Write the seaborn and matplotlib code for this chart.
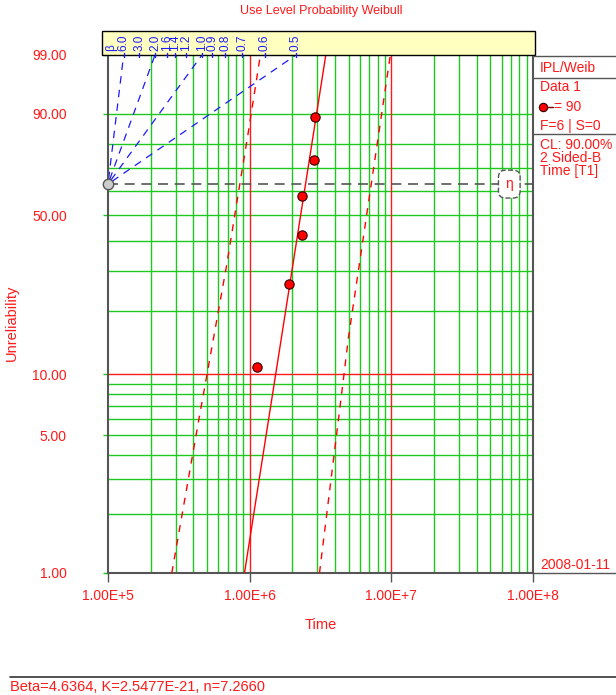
import numpy as np
import pandas as pd
import matplotlib
matplotlib.use('Agg')
import matplotlib.pyplot as plt
from matplotlib.patches import Rectangle
import seaborn as sns

# failure data at use level
fail_times = [1.125e6, 1.89e6, 2.35e6, 2.35e6, 2.85e6, 2.88e6]
unrel_pct = [10.9, 26.4, 42.1, 57.9, 73.5, 89.1]

# IPL-Weibull parameters
beta_fit = 4.6364
K_fit = 2.5477e-21
n_fit = 7.2660
use_stress = 90

# 2-sided confidence bounds on time
lower_t = [2.82e5, 4.38e5, 4.82e5, 6.89e5, 7.96e5, 9.84e5, 1.19e6]
lower_F = [1.0, 6.0, 8.7, 32.0, 52.2, 85.0, 99.0]
upper_t = [3.11e6, 4.52e6, 4.98e6, 6.78e6, 8.22e6, 9.84e6]
upper_F = [1.0, 8.7, 15.0, 52.2, 85.0, 99.0]

# beta scale labels and the fan lines drawn for some of them
beta_marks = [6.0, 3.0, 2.0, 1.6, 1.4, 1.2, 1.0, 0.9, 0.8, 0.7, 0.6, 0.5]
beta_fan = [6.0, 2.0, 1.0, 0.5]

y_ticks = [1, 5, 10, 50, 90, 99]
x_ticks = [1e5, 1e6, 1e7, 1e8]
x_ticklabels = ['1.00E+5', '1.00E+6', '1.00E+7', '1.00E+8']

sns.set_style('white')
plt.rcParams['font.family'] = ['Liberation Sans', 'DejaVu Sans']

RED = '#ff1a1a'
GREEN = '#1ec81e'
BLUE = '#1a1aff'
GRAY = '#555555'


def weib_fwd(F):
    F = np.clip(np.asarray(F, dtype=float), 1e-6, 100 - 1e-9)
    return np.log(-np.log(1 - F / 100.0))


def weib_inv(z):
    z = np.asarray(z, dtype=float)
    return 100.0 * (1 - np.exp(-np.exp(z)))


fig = plt.figure(figsize=(6.16, 6.95), dpi=100)
ax = fig.add_axes([108 / 616, 1 - 573 / 695, 425 / 616, 518 / 695])
ax.set_xscale('log')
ax.set_yscale('function', functions=(weib_fwd, weib_inv))
ax.set_xlim(1e5, 1e8)
ax.set_ylim(1, 99)

# grid
for dec in [1e5, 1e6, 1e7]:
    for m in range(2, 10):
        ax.axvline(dec * m, color=GREEN, lw=1, zorder=1)
for v in [1e6, 1e7]:
    ax.axvline(v, color=RED, lw=1, zorder=1.1)
for f in [2, 3, 4, 5, 6, 7, 8, 9, 20, 30, 40, 50, 60, 70, 80, 90]:
    ax.axhline(f, color=GREEN, lw=1, zorder=1)
ax.axhline(10, color=RED, lw=1, zorder=1.1)

# beta fan lines from origin
F_eta = 100 * (1 - np.exp(-1))
z_top = np.log(-np.log(0.01))
beta_x = {b: 1e5 * np.exp(z_top / b) for b in beta_marks}
for b in beta_fan:
    ax.plot([1e5, beta_x[b]], [F_eta, 99], color=BLUE, lw=0.9,
            linestyle=(7, (6, 5)), zorder=2)

# eta line
ax.plot([1e5, 1e8], [F_eta, F_eta], color=GRAY, lw=1.2, dashes=(6, 4), zorder=2)
ax.text(6.8e7, F_eta, 'η', color=RED, fontsize=10, ha='center', va='center', zorder=5,
        bbox=dict(boxstyle='round,pad=0.5', fc='white', ec=GRAY, ls='--', lw=1))
ax.plot([1e5], [F_eta], 'o', ms=7.5, mfc='#cccccc', mec=GRAY, mew=1, clip_on=False, zorder=6)

# fit line and bounds
eta = 1.0 / (K_fit * use_stress ** n_fit)
fit_F = np.array([1.0, 99.0])
fit_t = eta * (-np.log(1 - fit_F / 100)) ** (1 / beta_fit)
fit_df = pd.DataFrame({'t': fit_t, 'F': fit_F})
sns.lineplot(data=fit_df, x='t', y='F', ax=ax, color='red', lw=1, sort=False, estimator=None, zorder=3)
lo_df = pd.DataFrame({'t': lower_t, 'F': lower_F})
up_df = pd.DataFrame({'t': upper_t, 'F': upper_F})
for d in [lo_df, up_df]:
    sns.lineplot(data=d, x='t', y='F', ax=ax, color='red', lw=1, sort=False, estimator=None,
                 zorder=3)
for l in ax.get_lines()[-2:]:
    l.set_dashes((5, 5))

pts = pd.DataFrame({'t': fail_times, 'F': unrel_pct})
sns.scatterplot(data=pts, x='t', y='F', ax=ax, s=45, color='red', edgecolor='#300000',
                linewidth=0.8, zorder=4)

# axes styling
ax.set_xticks(x_ticks)
ax.set_xticklabels(x_ticklabels)
ax.xaxis.set_minor_locator(matplotlib.ticker.NullLocator())
ax.set_yticks(y_ticks)
ax.set_yticklabels(['%.2f' % v for v in y_ticks])
ax.yaxis.set_minor_locator(matplotlib.ticker.NullLocator())
ax.tick_params(axis='x', direction='out', length=6.5, width=1, color=GRAY, labelcolor=RED,
               labelsize=10, pad=5, bottom=True)
ax.tick_params(axis='y', direction='out', length=3.6, width=1, color=GREEN, labelcolor=RED,
               labelsize=10, pad=26, left=True)
for tk, v in zip(ax.yaxis.get_major_ticks(), y_ticks):
    if v == 10:
        tk.tick1line.set_color(RED)
    if v == 1:
        tk.tick1line.set_color(GRAY)
ax.set_xlabel('Time', color=RED, fontsize=10.5, labelpad=11)
ax.set_ylabel('')
fig.text(12 / 616, 1 - 323 / 695, 'Unreliability', color=RED, fontsize=10.5, rotation=90,
         ha='center', va='center')
for s in ['left', 'bottom', 'right']:
    ax.spines[s].set_color(GRAY)
    ax.spines[s].set_linewidth(1.5)
ax.spines['top'].set_visible(False)

# beta box above plot
aw, ah = 425.0, 518.0
ax.add_patch(Rectangle((-6 / aw, 1.0), 433 / aw, 24 / ah, transform=ax.transAxes,
                       fc='#ffffc0', ec='black', lw=1, clip_on=False, zorder=7))
bt = ax.get_xaxis_transform()
ax.text(3 / aw, 1 + 4 / ah, 'β', transform=ax.transAxes, color=BLUE, fontsize=8.5,
        rotation=90, ha='center', va='bottom', zorder=8)
for b in beta_marks:
    bx = beta_x[b]
    ax.text(bx, 1 + 4 / ah, '%.1f' % b, transform=bt, color=BLUE, fontsize=8.5,
            rotation=90, ha='center', va='bottom', zorder=8)
    ax.plot([bx, bx], [1 - 2 / ah, 1 + 2 / ah], transform=bt, color=BLUE, lw=1,
            clip_on=False, zorder=8)

# title
fig.text(321 / 616, 1 - 11 / 695, 'Use Level Probability Weibull', color=RED, fontsize=9,
         ha='center', va='center')

# right legend panel
def hline(y, x0=533, x1=616, c=GRAY, lw=1):
    fig.add_artist(plt.Line2D([x0 / 616, x1 / 616], [1 - y / 695, 1 - y / 695], color=c, lw=lw))

hline(56)
hline(78)
hline(134)
hline(573)
tx = 540 / 616
fig.text(tx, 1 - 68 / 695, 'IPL/Weib', color=RED, fontsize=10, va='center')
fig.text(tx, 1 - 87 / 695, 'Data 1', color=RED, fontsize=10, va='center')
fig.add_artist(plt.Line2D([tx, 553 / 616], [1 - 107 / 695] * 2, color='#800000', lw=1))
fig.add_artist(plt.Line2D([543 / 616], [1 - 107 / 695], marker='o', ms=6, mfc='red',
                          mec='#300000', mew=0.8))
fig.text(554 / 616, 1 - 107 / 695, '= 90', color=RED, fontsize=10, va='center')
fig.text(tx, 1 - 126 / 695, 'F=6 | S=0', color=RED, fontsize=10, va='center')
fig.text(tx, 1 - 145 / 695, 'CL: 90.00%', color=RED, fontsize=10, va='center')
fig.text(tx, 1 - 158 / 695, '2 Sided-B', color=RED, fontsize=10, va='center')
fig.text(tx, 1 - 171 / 695, 'Time [T1]', color=RED, fontsize=10, va='center')
fig.text(tx, 1 - 565 / 695, '2008-01-11', color=RED, fontsize=10, va='center')

# footer
hline(677, x0=10, x1=616, c='#333333', lw=1.2)
fig.text(10 / 616, 1 - 687 / 695, 'Beta=4.6364, K=2.5477E-21, n=7.2660', color=RED,
         fontsize=10.5, va='center')

fig.savefig('out.png', dpi=100)
